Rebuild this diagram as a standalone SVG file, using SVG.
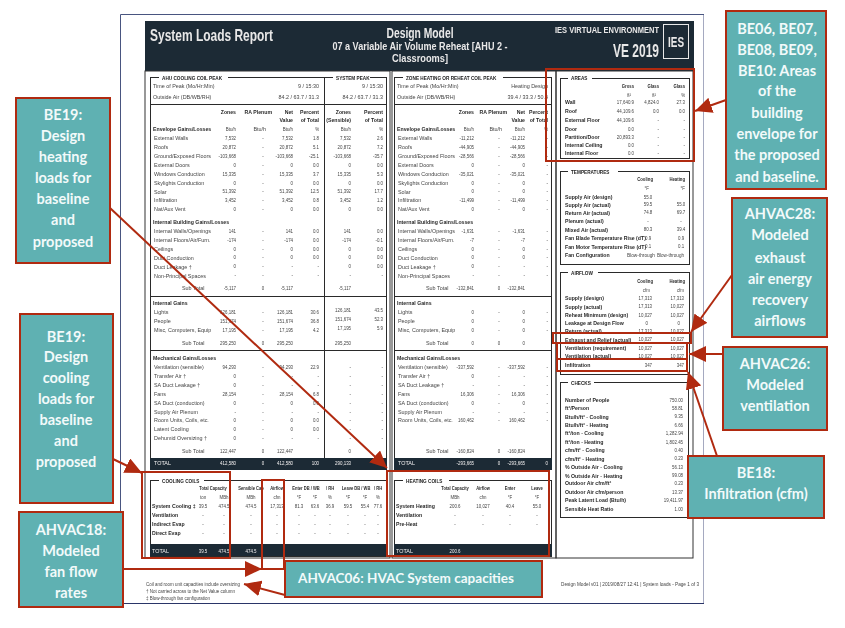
<svg xmlns="http://www.w3.org/2000/svg" width="845" height="628" viewBox="0 0 845 628">
<style>
text{font-family:"Liberation Sans",Arial,sans-serif;font-size:5.4px;fill:#444}
.b,.b text{font-weight:bold;font-size:5.2px;fill:#2a2a2a}
.h{font-size:4.7px;font-weight:bold;fill:#222}
.e text,.e{text-anchor:end}
.m text,.m{text-anchor:middle}
.e text:not(.b),.m text{transform-box:fill-box;transform:scaleX(.82)}
.e text{transform-origin:100% 50%}
.m text{transform-origin:50% 50%}
.n text{font-size:4.8px;transform:scaleX(.85)}
.w,.w text{fill:#f0f0f0}
.hd{font-weight:bold;fill:#e8e8e8}
.f{fill:none;stroke:#2b2b2b;stroke-width:1}
.o{fill:none;stroke:#333;stroke-width:1}
.bar{fill:#1f2b36}
.l{stroke:#2b2b2b;stroke-width:1}
.mask{fill:#fff}
.hl{fill:none;stroke:#b02a10;stroke-width:2}
.c{fill:none;stroke:#b02a10;stroke-width:2;marker-end:url(#a)}
.box{fill:#5fb1b2;stroke:#b02a10;stroke-width:2}
.t text{font-family:Lato,"Open Sans",sans-serif;font-weight:bold;font-size:14.5px;fill:#f2fafa;text-anchor:middle}
</style>
<defs>
<marker id="a" markerUnits="userSpaceOnUse" markerWidth="18" markerHeight="16" refX="17" refY="8" orient="auto"><path d="M0 0L17 8L0 16Z" fill="#b02a10"/></marker>
<filter id="s" x="0" y="0" width="100%" height="100%"><feGaussianBlur stdDeviation=".35"/></filter>
</defs>
<rect width="845" height="628" fill="#fff"/>
<g id="report" filter="url(#s)">
<path d="M120.500 604V14.500H704V604" fill="none" stroke="#4a5580" stroke-width="1"/>
<path d="M120 603.500H704" stroke="#2a3568" stroke-width="1"/>
<g id="header">
<rect class="bar" x="145" y="21" width="549" height="50"/>
<text x="150" y="41" class="hd" style="font-size:16.500px" textLength="123" lengthAdjust="spacingAndGlyphs">System Loads Report</text>
<text x="420" y="38" class="hd m" style="font-size:14px" textLength="67" lengthAdjust="spacingAndGlyphs">Design Model</text>
<text x="420" y="50" class="hd m" style="font-size:11px" textLength="175" lengthAdjust="spacingAndGlyphs">07 a Variable Air Volume Reheat [AHU 2 -</text>
<text x="420" y="62" class="hd m" style="font-size:11px" textLength="56" lengthAdjust="spacingAndGlyphs">Classrooms]</text>
<text x="659" y="33" class="hd e" style="font-size:9px" textLength="104" lengthAdjust="spacingAndGlyphs">IES VIRTUAL ENVIRONMENT</text>
<text x="659" y="57" class="hd e" style="font-size:18px" textLength="46" lengthAdjust="spacingAndGlyphs">VE 2019</text>
<rect x="663.500" y="24.500" width="25" height="34" fill="none" stroke="#e8e8e8" stroke-width="1"/>
<text x="676" y="47" class="hd m" style="font-size:14.500px" textLength="16" lengthAdjust="spacingAndGlyphs">IES</text>
</g>

<g id="ahu-panel">
<rect class="o" x="145" y="71" width="245" height="487"/>
<rect class="f" x="150.500" y="77.500" width="236" height="392"/>
<rect class="mask" x="159" y="75" width="69" height="5"/><rect class="mask" x="333" y="75" width="37" height="5"/>
<text x="162" y="80" class="h">AHU COOLING COIL PEAK</text>
<text x="336" y="80" class="h">SYSTEM PEAK</text>
<path class="l" d="M150 104.500H387M150 296.500H387M150 350.500H387M324.500 77V458"/>
<rect class="bar" x="150" y="458" width="237" height="12"/>
<text x="153" y="88">Time of Peak (Mo/Hr:Min)</text><text x="153" y="99">Outside Air (DB/WB/RH)</text>
<text x="319" y="88" class="e">9 / 15:30</text><text x="319" y="99" class="e">84.2 / 63.7 / 31.3</text>
<text x="383" y="88" class="e">9 / 15:30</text><text x="383" y="99" class="e">84.2 / 63.7 / 31.3</text>
<g class="b"><text x="153" y="131">Envelope Gains/Losses</text><text x="153" y="224">Internal Building Gains/Losses</text><text x="153" y="305">Internal Gains</text><text x="153" y="360">Mechanical Gains/Losses</text></g>
<g transform="translate(154 0)"><text y="140">External Walls</text><text y="149">Roofs</text><text y="158">Ground/Exposed Floors</text><text y="167">External Doors</text><text y="176">Windows Conduction</text><text y="185">Skylights Conduction</text><text y="193.500">Solar</text><text y="202">Infiltration</text><text y="211">Nat/Aux Vent</text><text y="233">Internal Walls/Openings</text><text y="242">Internal Floors/Air/Furn.</text><text y="251">Ceilings</text><text y="259.500">Duct Conduction</text><text y="268.500">Duct Leakage †</text><text y="277.500">Non-Principal Spaces</text><text x="28" y="290">Sub Total</text><text y="314">Lights</text><text y="323">People</text><text y="332">Misc, Computers, Equip</text><text x="28" y="345">Sub Total</text><text y="369">Ventilation (sensible)</text><text y="378">Transfer Air †</text><text y="387">SA Duct Leakage †</text><text y="396">Fans</text><text y="405">SA Duct (conduction)</text><text y="414">Supply Air Plenum</text><text y="422">Room Units, Coils, etc.</text><text y="431">Latent Cooling</text><text y="440">Dehumid Oversizing †</text><text x="28" y="453">Sub Total</text></g>
<text x="154" y="465" class="w">TOTAL</text>
<g class="e" transform="translate(236 0)"><text y="114" class="b">Zones</text><text y="131">Btu/h</text><text y="140">7,532</text><text y="149">20,872</text><text y="158">-103,668</text><text y="167">0</text><text y="176">15,335</text><text y="185">0</text><text y="193.500">51,392</text><text y="202">3,452</text><text y="211">0</text><text y="233">141</text><text y="242">-174</text><text y="251">0</text><text y="259.500">0</text><text y="268.500">0</text><text y="277.500">-</text><text y="290">-5,117</text><text y="314">126,181</text><text y="323">151,674</text><text y="332">17,195</text><text y="345">295,250</text><text y="369">94,293</text><text y="378">0</text><text y="387">0</text><text y="396">28,154</text><text y="405">0</text><text y="414">-</text><text y="422">0</text><text y="431">0</text><text y="440">0</text><text y="453">122,447</text><text y="465" class="w">412,580</text></g>
<text x="272" y="114" class="b e">RA Plenum</text><text x="266" y="131" class="e">Btu/h</text>
<g class="m" transform="translate(263 0)"><text y="140">-</text><text y="149">-</text><text y="158">-</text><text y="167">-</text><text y="176">-</text><text y="185">-</text><text y="193.500">-</text><text y="202">-</text><text y="211">-</text><text y="233">-</text><text y="242">-</text><text y="251">-</text><text y="259.500">-</text><text y="268.500">-</text><text y="277.500">-</text><text y="290">0</text><text y="314">-</text><text y="323">-</text><text y="332">-</text><text y="345">0</text><text y="369">-</text><text y="378">-</text><text y="387">-</text><text y="396">-</text><text y="405">-</text><text y="414">-</text><text y="422">-</text><text y="431">-</text><text y="440">-</text><text y="453">0</text><text y="465" class="w">0</text></g>
<g class="e" transform="translate(293 0)"><text y="114" class="b">Net</text><text y="122" class="b">Value</text><text y="131">Btu/h</text><text y="140">7,532</text><text y="149">20,872</text><text y="158">-103,668</text><text y="167">0</text><text y="176">15,335</text><text y="185">0</text><text y="193.500">51,392</text><text y="202">3,452</text><text y="211">0</text><text y="233">141</text><text y="242">-174</text><text y="251">0</text><text y="259.500">0</text><text y="268.500">-</text><text y="277.500">-</text><text y="290">-5,117</text><text y="314">126,181</text><text y="323">151,674</text><text y="332">17,195</text><text y="345">295,250</text><text y="369">94,293</text><text y="378">-</text><text y="387">-</text><text y="396">28,154</text><text y="405">0</text><text y="414">-</text><text y="422">0</text><text y="431">0</text><text y="440">-</text><text y="453">122,447</text><text y="465" class="w">412,580</text></g>
<g class="e" transform="translate(319 0)"><text y="114" class="b">Percent</text><text y="122" class="b">of Total</text><text y="131">%</text><text y="140">1.8</text><text y="149">5.1</text><text y="158">-25.1</text><text y="167">0.0</text><text y="176">3.7</text><text y="185">0.0</text><text y="193.500">12.5</text><text y="202">0.8</text><text y="211">0.0</text><text y="233">0.0</text><text y="242">0.0</text><text y="251">0.0</text><text y="259.500">0.0</text><text y="268.500">-</text><text y="277.500">-</text><text y="314">30.6</text><text y="323">36.8</text><text y="332">4.2</text><text y="369">22.9</text><text y="378">-</text><text y="387">-</text><text y="396">6.8</text><text y="405">0.0</text><text y="414">-</text><text y="422">0.0</text><text y="431">0.0</text><text y="440">-</text><text y="465" class="w">100</text></g>
<g class="e" transform="translate(351 0)"><text y="114" class="b">Zones</text><text y="122" class="b">(Sensible)</text><text y="131">Btu/h</text><text y="140">7,532</text><text y="149">20,872</text><text y="158">-103,668</text><text y="167">0</text><text y="176">15,335</text><text y="185">0</text><text y="193.500">51,392</text><text y="202">3,452</text><text y="211">0</text><text y="233">141</text><text y="242">-174</text><text y="251">0</text><text y="259.500">0</text><text y="268.500">0</text><text y="277.500">-</text><text y="290">-5,117</text><text y="312">126,181</text><text y="321">151,674</text><text y="330">17,195</text><text y="345">295,250</text><text y="369">-</text><text y="378">-</text><text y="387">-</text><text y="396">-</text><text y="405">-</text><text y="414">-</text><text y="422">-</text><text y="431">-</text><text y="440">-</text><text y="453">0</text><text y="465" class="w">290,133</text></g>
<g class="e" transform="translate(383 0)"><text y="114" class="b">Percent</text><text y="122" class="b">of Total</text><text y="131">%</text><text y="140">2.6</text><text y="149">7.2</text><text y="158">-35.7</text><text y="167">0.0</text><text y="176">5.3</text><text y="185">0.0</text><text y="193.500">17.7</text><text y="202">1.2</text><text y="211">0.0</text><text y="233">0.0</text><text y="242">-0.1</text><text y="251">0.0</text><text y="259.500">0.0</text><text y="268.500">0.0</text><text y="277.500">-</text><text y="312">43.5</text><text y="321">52.3</text><text y="330">5.9</text><text y="369">-</text><text y="378">-</text><text y="387">-</text><text y="396">-</text><text y="405">-</text><text y="414">-</text><text y="422">-</text><text y="431">-</text><text y="440">-</text></g>
</g>

<g id="zone-panel">
<rect class="o" x="392" y="71" width="164" height="487"/>
<rect class="f" x="394.500" y="77.500" width="157" height="392"/>
<rect class="mask" x="403" y="75" width="100" height="5"/>
<text x="406" y="80" class="h">ZONE HEATING OR REHEAT COIL PEAK</text>
<path class="l" d="M394 104.500H552M394 296.500H552M394 350.500H552"/>
<rect class="bar" x="394" y="458" width="158" height="12"/>
<text x="397" y="88">Time of Peak (Mo/Hr:Min)</text><text x="397" y="99">Outside Air (DB/WB/RH)</text>
<text x="548" y="88" class="e">Heating Design</text><text x="548" y="99" class="e">39.4 / 33.3 / 50.4</text>
<g class="b"><text x="397" y="131">Envelope Gains/Losses</text><text x="397" y="224">Internal Building Gains/Losses</text><text x="397" y="305">Internal Gains</text><text x="397" y="360">Mechanical Gains/Losses</text></g>
<g transform="translate(398 0)"><text y="140">External Walls</text><text y="149">Roofs</text><text y="158">Ground/Exposed Floors</text><text y="167">External Doors</text><text y="176">Windows Conduction</text><text y="185">Skylights Conduction</text><text y="193.500">Solar</text><text y="202">Infiltration</text><text y="211">Nat/Aux Vent</text><text y="233">Internal Walls/Openings</text><text y="242">Internal Floors/Air/Furn.</text><text y="251">Ceilings</text><text y="259.500">Duct Conduction</text><text y="268.500">Duct Leakage †</text><text y="277.500">Non-Principal Spaces</text><text x="28" y="290">Sub Total</text><text y="314">Lights</text><text y="323">People</text><text y="332">Misc, Computers, Equip</text><text x="28" y="345">Sub Total</text><text y="369">Ventilation (sensible)</text><text y="378">Transfer Air †</text><text y="387">SA Duct Leakage †</text><text y="396">Fans</text><text y="405">SA Duct (conduction)</text><text y="414">Supply Air Plenum</text><text y="422">Room Units, Coils, etc.</text><text x="28" y="453">Sub Total</text></g>
<text x="398" y="465" class="w">TOTAL</text>
<g class="e" transform="translate(474 0)"><text y="114" class="b">Zones</text><text y="131">Btu/h</text><text y="140">-11,212</text><text y="149">-44,905</text><text y="158">-28,566</text><text y="167">0</text><text y="176">-35,021</text><text y="185">0</text><text y="193.500">0</text><text y="202">-11,499</text><text y="211">0</text><text y="233">-1,631</text><text y="242">-7</text><text y="251">0</text><text y="259.500">0</text><text y="268.500">0</text><text y="277.500">-</text><text y="290">-132,841</text><text y="314">0</text><text y="323">0</text><text y="332">0</text><text y="345">0</text><text y="369">-337,592</text><text y="378">0</text><text y="387">-</text><text y="396">16,306</text><text y="405">0</text><text y="414">-</text><text y="422">160,462</text><text y="453">-160,824</text><text y="465" class="w">-293,665</text></g>
<text x="507" y="114" class="b e">RA Plenum</text><text x="502" y="131" class="e">Btu/h</text>
<g class="m" transform="translate(499 0)"><text y="140">-</text><text y="149">-</text><text y="158">-</text><text y="167">-</text><text y="176">-</text><text y="185">-</text><text y="193.500">-</text><text y="202">-</text><text y="211">-</text><text y="233">-</text><text y="242">-</text><text y="251">-</text><text y="259.500">-</text><text y="268.500">-</text><text y="277.500">-</text><text y="290">0</text><text y="314">-</text><text y="323">-</text><text y="332">-</text><text y="345">0</text><text y="369">-</text><text y="378">-</text><text y="387">-</text><text y="396">-</text><text y="405">-</text><text y="414">-</text><text y="422">-</text><text y="453">0</text><text y="465" class="w">0</text></g>
<g class="e" transform="translate(525 0)"><text y="114" class="b">Net</text><text y="122" class="b">Value</text><text y="131">Btu/h</text><text y="140">-11,212</text><text y="149">-44,905</text><text y="158">-28,566</text><text y="167">0</text><text y="176">-35,021</text><text y="185">0</text><text y="193.500">0</text><text y="202">-11,499</text><text y="211">0</text><text y="233">-1,631</text><text y="242">-7</text><text y="251">0</text><text y="259.500">0</text><text y="268.500">-</text><text y="277.500">-</text><text y="290">-132,841</text><text y="314">0</text><text y="323">0</text><text y="332">0</text><text y="345">0</text><text y="369">-337,592</text><text y="378">-</text><text y="387">-</text><text y="396">16,306</text><text y="405">0</text><text y="414">-</text><text y="422">160,462</text><text y="453">-160,824</text><text y="465" class="w">-293,665</text></g>
<g class="e" transform="translate(548 0)"><text y="114" class="b">Percent</text><text y="122" class="b">of Total</text><text y="131">%</text><text y="140">-</text><text y="149">-</text><text y="158">-</text><text y="167">-</text><text y="176">-</text><text y="185">-</text><text y="193.500">-</text><text y="202">-</text><text y="211">-</text><text y="233">-</text><text y="242">-</text><text y="251">-</text><text y="259.500">-</text><text y="268.500">-</text><text y="277.500">-</text><text y="314">-</text><text y="323">-</text><text y="332">-</text><text y="369">-</text><text y="378">-</text><text y="387">-</text><text y="396">-</text><text y="405">-</text><text y="414">-</text><text y="422">-</text><text y="465" class="w">0</text></g>
</g>

<g id="cooling-coils">
<rect class="f" x="150.500" y="480.500" width="236" height="76"/>
<rect class="mask" x="159" y="478" width="45" height="5"/>
<text x="162" y="483" class="h">COOLING COILS</text>
<rect class="bar" x="150" y="544" width="237" height="12"/>
<g class="m b n"><text x="213" y="490">Total Capacity</text><text x="251" y="490">Sensible Cap</text><text x="277" y="490">Airflow</text><text x="306" y="490">Enter DB / WB</text><text x="330" y="490">/ RH</text><text x="356" y="490">Leave DB / WB</text><text x="378" y="490">/ RH</text></g>
<g class="m"><text x="203" y="499">ton</text><text x="224" y="499">MBh</text><text x="251" y="499">MBh</text><text x="277" y="499">cfm</text><text x="299" y="499">°F</text><text x="315" y="499">°F</text><text x="330" y="499">%</text><text x="348" y="499">°F</text><text x="365" y="499">°F</text><text x="378" y="499">%</text>
<text x="203" y="508">39.5</text><text x="224" y="508">474.5</text><text x="251" y="508">474.5</text><text x="277" y="508">17,313</text><text x="299" y="508">81.3</text><text x="315" y="508">63.6</text><text x="330" y="508">36.9</text><text x="348" y="508">59.5</text><text x="365" y="508">55.4</text><text x="378" y="508">77.6</text>
<text x="203" y="517">-</text><text x="224" y="517">-</text><text x="251" y="517">-</text><text x="277" y="517">-</text><text x="299" y="517">-</text><text x="315" y="517">-</text><text x="330" y="517">-</text><text x="348" y="517">-</text><text x="365" y="517">-</text><text x="378" y="517">-</text>
<text x="203" y="526">-</text><text x="224" y="526">-</text><text x="251" y="526">-</text><text x="277" y="526">-</text><text x="299" y="526">-</text><text x="315" y="526">-</text><text x="330" y="526">-</text><text x="348" y="526">-</text><text x="365" y="526">-</text><text x="378" y="526">-</text>
<text x="203" y="535">-</text><text x="224" y="535">-</text><text x="251" y="535">-</text><text x="277" y="535">-</text><text x="299" y="535">-</text><text x="315" y="535">-</text><text x="330" y="535">-</text><text x="348" y="535">-</text><text x="365" y="535">-</text><text x="378" y="535">-</text>
<text x="203" y="553" class="w">39.5</text><text x="224" y="553" class="w">474.5</text><text x="251" y="553" class="w">474.5</text></g>
<g class="b"><text x="152" y="508">System Cooling ‡</text><text x="152" y="517">Ventilation</text><text x="152" y="526">Indirect Evap</text><text x="152" y="535">Direct Evap</text></g>
<text x="152" y="553" class="w">TOTAL</text>
</g>

<g id="heating-coils">
<rect class="f" x="394.500" y="480.500" width="157" height="76"/>
<rect class="mask" x="403" y="478" width="46" height="5"/>
<text x="406" y="483" class="h">HEATING COILS</text>
<rect class="bar" x="394" y="544" width="158" height="12"/>
<g class="m b n"><text x="455" y="490">Total Capacity</text><text x="483" y="490">Airflow</text><text x="510" y="490">Enter</text><text x="537" y="490">Leave</text></g>
<g class="m"><text x="455" y="499">MBh</text><text x="483" y="499">cfm</text><text x="510" y="499">°F</text><text x="537" y="499">°F</text>
<text x="455" y="508">200.6</text><text x="483" y="508">10,027</text><text x="510" y="508">40.4</text><text x="537" y="508">55.0</text>
<text x="455" y="517">-</text><text x="483" y="517">-</text><text x="510" y="517">-</text><text x="537" y="517">-</text>
<text x="455" y="526">-</text><text x="483" y="526">-</text><text x="510" y="526">-</text><text x="537" y="526">-</text>
<text x="455" y="553" class="w">200.6</text></g>
<g class="b"><text x="396" y="508">System Heating</text><text x="396" y="517">Ventilation</text><text x="396" y="526">Pre-Heat</text></g>
<text x="396" y="553" class="w">TOTAL</text>
</g>

<rect class="o" x="556" y="71" width="137" height="487"/>
<g id="areas">
<rect class="f" x="560.500" y="78.500" width="129" height="80"/>
<rect class="mask" x="568" y="76" width="24" height="5"/>
<text x="571" y="80" class="h">AREAS</text>
<g class="e b"><text x="634" y="88">Gross</text><text x="659" y="88">Glass</text><text x="685" y="88">Glass</text></g>
<g class="e"><text x="631" y="97">ft²</text><text x="656" y="97">ft²</text><text x="685" y="97">%</text></g>
<g class="b"><text x="565" y="104">Wall</text><text x="565" y="113">Roof</text><text x="565" y="122">External Floor</text><text x="565" y="131">Door</text><text x="565" y="139">Partition/Door</text><text x="565" y="147">Internal Ceiling</text><text x="565" y="155">Internal Floor</text></g>
<g class="e" transform="translate(634 0)"><text y="104">17,640.9</text><text y="113">44,109.6</text><text y="122">44,109.6</text><text y="131">0.0</text><text y="139">20,893.3</text><text y="147">0.0</text><text y="155">0.0</text></g>
<g class="e" transform="translate(659 0)"><text y="104">4,824.0</text><text y="113">0.0</text><text y="122">-</text><text y="131">-</text><text y="139">-</text><text y="147">-</text><text y="155">-</text></g>
<g class="e" transform="translate(685 0)"><text y="104">27.3</text><text y="113">0.0</text><text y="122">-</text><text y="131">-</text><text y="139">-</text><text y="147">-</text><text y="155">-</text></g>
</g>
<g id="temperatures">
<rect class="f" x="560.500" y="171.500" width="129" height="93"/>
<rect class="mask" x="568" y="169" width="50" height="5"/>
<text x="571" y="173.500" class="h">TEMPERATURES</text>
<g class="e b"><text x="653" y="181">Cooling</text><text x="685" y="181">Heating</text></g>
<g class="e"><text x="649" y="190">°F</text><text x="685" y="190">°F</text></g>
<g class="b"><text x="565" y="199">Supply Air (design)</text><text x="565" y="206.500">Supply Air (actual)</text><text x="565" y="214.500">Return Air (actual)</text><text x="565" y="223">Plenum (actual)</text><text x="565" y="231.500">Mixed Air (actual)</text><text x="565" y="240">Fan Blade Temperature Rise (dT)</text><text x="565" y="248.500">Fan Motor Temperature Rise (dT)</text><text x="565" y="257">Fan Configuration</text></g>
<g class="m" transform="translate(648 0)"><text y="199">55.0</text><text y="206.500">59.5</text><text y="214.500">74.8</text><text y="223">-</text><text y="231.500">80.3</text><text y="240">0.9</text><text y="248.500">0.1</text></g>
<g class="m" transform="translate(681 0)"><text y="206.500">55.0</text><text y="214.500">69.7</text><text y="223">-</text><text y="231.500">39.4</text><text y="240">0.9</text><text y="248.500">0.1</text></g>
<text x="655" y="257" class="e" textLength="28" lengthAdjust="spacingAndGlyphs">Blow-through</text><text x="684" y="257" class="e" textLength="27" lengthAdjust="spacingAndGlyphs">Blow-through</text>
</g>
<g id="airflow">
<rect class="f" x="560.500" y="272.500" width="129" height="102"/>
<rect class="mask" x="568" y="270" width="30" height="5"/>
<text x="571" y="274.500" class="h">AIRFLOW</text>
<g class="e b"><text x="653" y="283">Cooling</text><text x="685" y="283">Heating</text></g>
<g class="e"><text x="650" y="292">cfm</text><text x="684" y="292">cfm</text></g>
<g class="b"><text x="565" y="300">Supply (design)</text><text x="565" y="308.500">Supply (actual)</text><text x="565" y="317">Reheat Minimum (design)</text><text x="565" y="325">Leakage at Design Flow</text><text x="565" y="333">Return (actual)</text><text x="565" y="341.500">Exhaust and Relief (actual)</text><text x="565" y="350">Ventilation (requirement)</text><text x="565" y="358">Ventilation (actual)</text><text x="565" y="367">Infiltration</text></g>
<g class="e" transform="translate(652 0)"><text y="300">17,313</text><text y="308.500">17,313</text><text y="317">10,027</text><text x="-4" y="325">0</text><text y="333">17,313</text><text y="341.500">10,027</text><text y="350">10,027</text><text y="358">10,027</text><text y="367">347</text></g>
<g class="e" transform="translate(684 0)"><text y="300">17,313</text><text y="308.500">10,027</text><text y="317">10,027</text><text x="-4" y="325">0</text><text y="333">10,027</text><text y="341.500">10,027</text><text y="350">10,027</text><text y="358">10,027</text><text y="367">347</text></g>
</g>
<g id="checks">
<rect class="f" x="560.500" y="382.500" width="128" height="135"/>
<rect class="mask" x="568" y="380" width="26" height="5"/>
<text x="571" y="384.500" class="h">CHECKS</text>
<g class="b"><text x="565" y="402">Number of People</text><text x="565" y="410">ft²/Person</text><text x="565" y="418.500">Btu/h/ft² - Cooling</text><text x="565" y="427">Btu/h/ft² - Heating</text><text x="565" y="435">ft²/ton - Cooling</text><text x="565" y="444">ft²/ton - Heating</text><text x="565" y="452">cfm/ft² - Cooling</text><text x="565" y="460.500">cfm/ft² - Heating</text><text x="565" y="469">% Outside Air - Cooling</text><text x="565" y="477.500">% Outside Air - Heating</text><text x="565" y="485">Outdoor Air cfm/ft²</text><text x="565" y="494">Outdoor Air cfm/person</text><text x="565" y="502">Peak Latent Load (Btu/h)</text><text x="565" y="511">Sensible Heat Ratio</text></g>
<g class="e" transform="translate(683 0)"><text y="402">750.00</text><text y="410">58.81</text><text y="418.500">9.35</text><text y="427">6.66</text><text y="435">1,282.94</text><text y="444">1,802.45</text><text y="452">0.40</text><text y="460.500">0.23</text><text y="469">56.13</text><text y="477.500">99.08</text><text y="485">0.23</text><text y="494">13.37</text><text y="502">19,411.97</text><text y="511">1.00</text></g>
</g>
<g id="footer">
<text x="146" y="586" textLength="94" lengthAdjust="spacingAndGlyphs">Coil and room unit capacities include oversizing</text>
<text x="146" y="593" textLength="89" lengthAdjust="spacingAndGlyphs">† Not carried across to the Net Value column</text>
<text x="146" y="600" textLength="64" lengthAdjust="spacingAndGlyphs">‡ Blow-through fan configuration</text>
<text x="561" y="586" textLength="138" lengthAdjust="spacingAndGlyphs">Design Model v01 | 2019/08/27 12:41 | System loads - Page 1 of 3</text>
</g>
</g>

<g id="highlights">
<rect class="hl" x="546" y="69" width="148" height="92"/>
<rect class="hl" x="553" y="333" width="138" height="10"/>
<rect class="hl" x="557" y="343" width="130" height="16"/>
<rect class="hl" x="557" y="359" width="130" height="12"/>
<rect class="hl" x="142" y="472" width="88" height="86"/>
<rect class="hl" x="262" y="480" width="22" height="89"/>
<rect class="hl" x="387" y="471" width="162" height="85"/>
</g>

<g id="connectors">
<path class="c" d="M726 100L695 111"/>
<path class="c" d="M732 275L691 332"/>
<path class="c" d="M723 354H689"/>
<path class="c" d="M717 456L688 372"/>
<path class="c" d="M110 208L387 468"/>
<path class="c" d="M113 459L142 473"/>
<path class="c" d="M124 569H262"/>
<path class="c" d="M285 595L244 584"/>
</g>

<g id="callout-be06" class="t"><rect class="box" x="726" y="11" width="100" height="178"/>
<text x="777" y="34">BE06, BE07,</text><text x="777" y="55">BE08, BE09,</text><text x="777" y="76">BE10: Areas</text><text x="777" y="96">of the</text><text x="777" y="118">building</text><text x="777" y="139">envelope for</text><text x="777" y="160">the proposed</text><text x="777" y="182">and baseline.</text></g>
<g id="callout-ahvac28" class="t"><rect class="box" x="732" y="198" width="95" height="139"/>
<text x="780" y="219">AHVAC28:</text><text x="780" y="240">Modeled</text><text x="780" y="263">exhaust</text><text x="780" y="284">air energy</text><text x="780" y="305">recovery</text><text x="780" y="326">airflows</text></g>
<g id="callout-ahvac26" class="t"><rect class="box" x="723" y="347" width="104" height="83"/>
<text x="775" y="369">AHVAC26:</text><text x="775" y="390">Modeled</text><text x="775" y="411">ventilation</text></g>
<g id="callout-be18" class="t"><rect class="box" x="688" y="456" width="136" height="62"/>
<text x="756" y="478">BE18:</text><text x="756" y="499">Infiltration (cfm)</text></g>
<g id="callout-be19-heating" class="t"><rect class="box" x="16" y="98" width="94" height="165"/>
<text x="63" y="120">BE19:</text><text x="63" y="141">Design</text><text x="63" y="162">heating</text><text x="63" y="183">loads for</text><text x="63" y="204">baseline</text><text x="63" y="225">and</text><text x="63" y="247">proposed</text></g>
<g id="callout-be19-cooling" class="t"><rect class="box" x="20" y="314" width="93" height="189"/>
<text x="66" y="342">BE19:</text><text x="66" y="362">Design</text><text x="66" y="383">cooling</text><text x="66" y="404">loads for</text><text x="66" y="425">baseline</text><text x="66" y="446">and</text><text x="66" y="467">proposed</text></g>
<g id="callout-ahvac18" class="t"><rect class="box" x="19" y="512" width="104" height="95"/>
<text x="71" y="535">AHVAC18:</text><text x="71" y="556">Modeled</text><text x="71" y="577">fan flow</text><text x="71" y="598">rates</text></g>
<g id="callout-ahvac06" class="t"><rect class="box" x="285" y="561" width="257" height="36"/>
<text x="406" y="583" style="font-size:14px" textLength="216" lengthAdjust="spacingAndGlyphs">AHVAC06: HVAC System capacities</text></g>
</svg>
